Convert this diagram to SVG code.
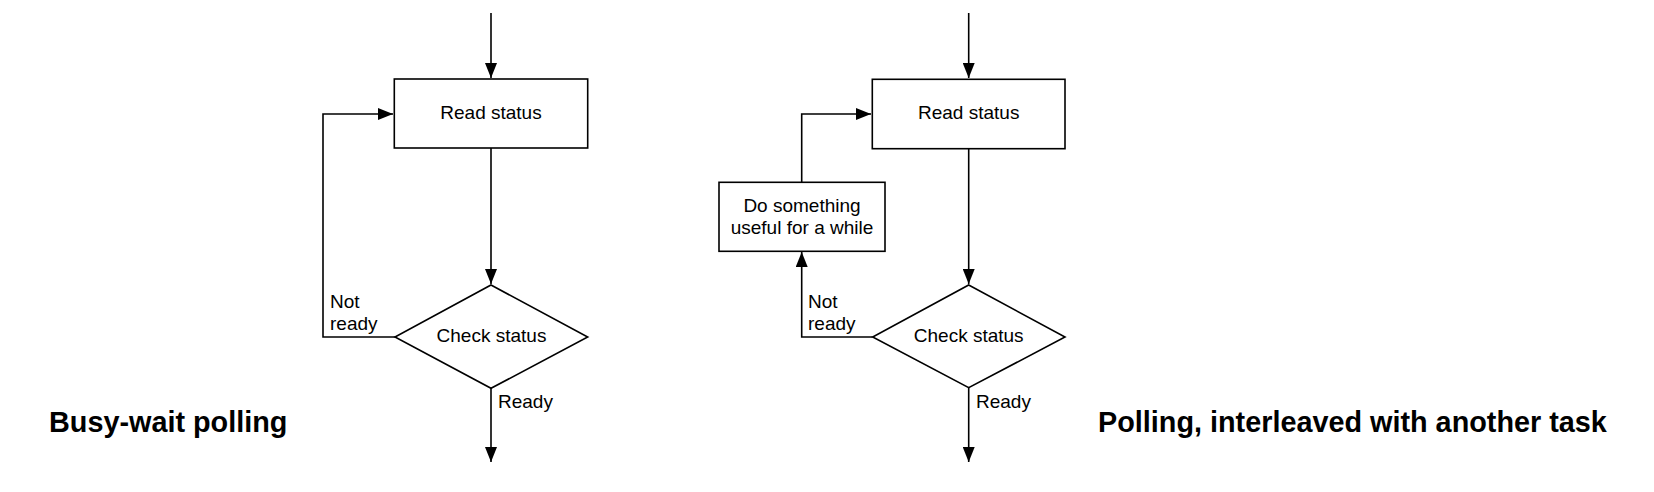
<svg xmlns="http://www.w3.org/2000/svg" width="1654" height="492" viewBox="0 0 1654 492">
<defs>
<marker id="arr" markerUnits="userSpaceOnUse" markerWidth="15" markerHeight="12" refX="15" refY="6" orient="auto">
<path d="M0,0 L15,6 L0,12 z" fill="#000"/>
</marker>
<style>
.box{fill:#fff;stroke:#000;stroke-width:1.6}
.ln{fill:none;stroke:#000;stroke-width:1.6;marker-end:url(#arr)}
.t{font-family:"Liberation Sans",Arial,sans-serif;font-size:19px;fill:#000}
.c{text-anchor:middle}
.h{font-family:"Liberation Sans",Arial,sans-serif;font-size:28.8px;font-weight:bold;fill:#000}
</style>
</defs>
<rect width="1654" height="492" fill="#fff"/>
<g id="connectors">
<path class="ln" d="M491,13 V78"/>
<path class="ln" d="M491,148 V284"/>
<path class="ln" d="M395,337 H323 V114 H393"/>
<path class="ln" d="M491,388 V462"/>
<path class="ln" d="M968.7,13 V78"/>
<path class="ln" d="M968.7,148.7 V284"/>
<path class="ln" d="M872.7,337 H801.7 V252"/>
<path class="ln" d="M801.7,182 V114 H871"/>
<path class="ln" d="M968.7,388 V462"/>
<text class="t" x="330" y="308">Not</text>
<text class="t" x="330" y="330">ready</text>
<text class="t" x="498" y="408">Ready</text>
<text class="t" x="808" y="308">Not</text>
<text class="t" x="808" y="330">ready</text>
<text class="t" x="976" y="408">Ready</text>
</g>
<g id="read1">
<rect class="box" x="394.3" y="79" width="193.4" height="69"/>
<text class="t c" x="491" y="119">Read status</text>
</g>
<g id="check1">
<polygon class="box" points="491,285 587.7,337 491,388.3 395,337"/>
<text class="t c" x="491.5" y="342">Check status</text>
</g>
<g id="read2">
<rect class="box" x="872.3" y="79.3" width="192.7" height="69.4"/>
<text class="t c" x="968.7" y="119">Read status</text>
</g>
<g id="useful">
<rect class="box" x="719" y="182.3" width="166" height="69"/>
<text class="t c" x="802" y="212">Do something</text>
<text class="t c" x="802" y="234">useful for a while</text>
</g>
<g id="check2">
<polygon class="box" points="968.7,285 1065,337 968.7,387.7 872.7,337"/>
<text class="t c" x="968.7" y="342">Check status</text>
</g>
<g id="title1">
<text class="h" x="49" y="432">Busy-wait polling</text>
</g>
<g id="title2">
<text class="h" x="1098" y="432">Polling, interleaved with another task</text>
</g>
</svg>
